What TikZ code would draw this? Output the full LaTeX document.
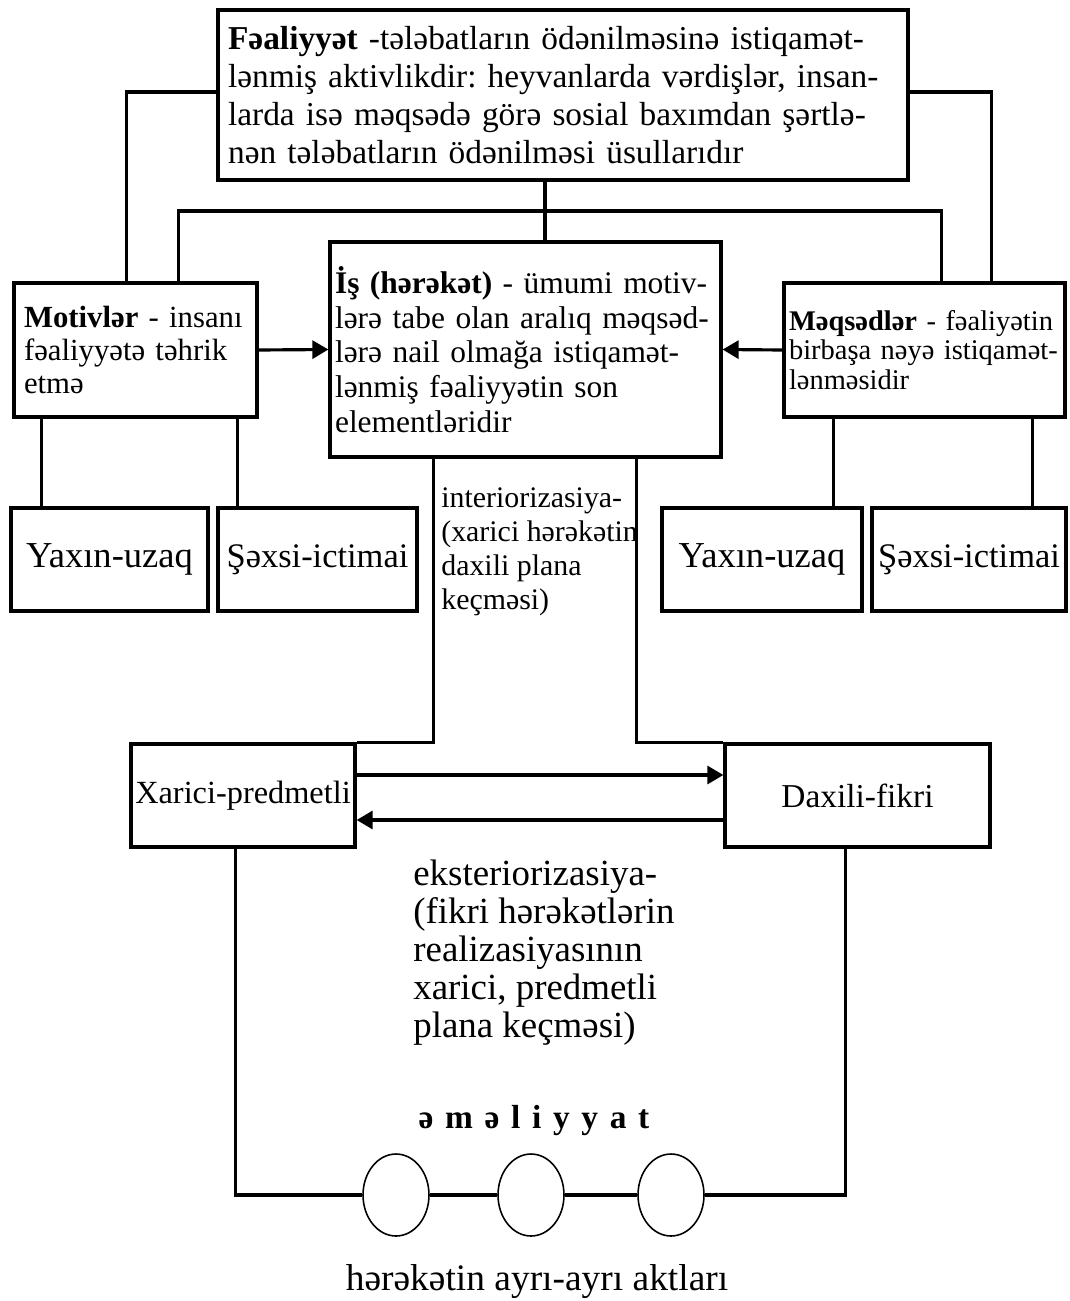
\documentclass[tikz,border=0pt]{standalone}
\usepackage{fontspec}
\setmainfont{Liberation Serif}
\frenchspacing
\usetikzlibrary{shapes.geometric,arrows.meta,calc}
\tikzstyle{bx}=[draw, line width=1.9pt, inner sep=0pt, minimum height=2.06cm]
\tikzstyle{tx}=[bx, align=left]
\tikzstyle{ln}=[line width=1.8pt]
\tikzstyle{to}=[ln, -{Triangle[length=0.32cm,width=0.36cm]}]
\tikzstyle{akt}=[draw, ellipse, line width=0.9pt, fill=white, minimum width=1.32cm, minimum height=1.64cm, inner sep=0pt]
\tikzstyle{lbl}=[inner sep=0pt, align=left]

\begin{document}
\begin{tikzpicture}[x=0.02cm, y=-0.02cm]
\useasboundingbox (0,0) rectangle (1069,1301);
% main boxes
\node[tx, minimum height=3.4cm, inner xsep=0.2cm, text width=13.4cm,
      font=\fontsize{19}{21.5}\selectfont] (fa) at (563,95)
      {\textbf{Fəaliyyət} -tələbatların ödənilməsinə istiqamət-\\lənmiş aktivlikdir: heyvanlarda vərdişlər, insan-\\larda isə məqsədə görə sosial baxımdan şərtlə-\\nən tələbatların ödənilməsi üsullarıdır};
\node[tx, minimum height=4.3cm, inner xsep=0.1cm, text width=7.62cm,
      font=\fontsize{17.9}{19.8}\selectfont] (is) at (525.5,349.5)
      {\textbf{İş (hərəkət)} - ümumi motiv-\\lərə tabe olan aralıq məqsəd-\\lərə nail olmağa istiqamət-\\lənmiş fəaliyyətin son\\elementləridir};
\node[tx, minimum height=2.68cm, inner xsep=0.2cm, text width=4.46cm,
      font=\fontsize{17.5}{18.7}\selectfont] (mot) at (135.5,350)
      {\textbf{Motivlər} - insanı\\fəaliyyətə təhrik\\etmə};
\node[tx, minimum height=2.68cm, inner xsep=0.1cm, text width=5.42cm,
      font=\fontsize{16.2}{16.6}\selectfont] (meq) at (924.5,350)
      {\textbf{Məqsədlər} - fəaliyətin\\birbaşa nəyə istiqamət-\\lənməsidir};
% small boxes
\node[bx, minimum width=3.94cm, font=\fontsize{20.8}{24}\selectfont] (yu1) at (109.5,559.5) {Yaxın-uzaq};
\node[bx, minimum width=3.98cm, font=\fontsize{19.6}{24}\selectfont] (sx1) at (317.5,559.5) {Şəxsi-ictimai};
\node[bx, minimum width=4.0cm, font=\fontsize{20.8}{24}\selectfont] (yu2) at (762,559.5) {Yaxın-uzaq};
\node[bx, minimum width=3.88cm, font=\fontsize{19.6}{24}\selectfont] (sx2) at (969,559.5) {Şəxsi-ictimai};
\node[bx, minimum width=4.48cm, font=\fontsize{18.4}{23}\selectfont] (xar) at (243,795.5) {Xarici-predmetli};
\node[bx, minimum width=5.3cm, font=\fontsize{19}{23}\selectfont] (dax) at (857.5,795.5) {Daxili-fikri};
% acts
\node[akt] (e1) at (396,1195) {};
\node[akt] (e2) at (531,1195) {};
\node[akt] (e3) at (671,1195) {};
% labels
\node[lbl, anchor=north west, font=\fontsize{17}{19.4}\selectfont] (int) at (441,487)
      {interiorizasiya-\\(xarici hərəkətin\\daxili plana\\keçməsi)};
\node[lbl, anchor=north west, font=\fontsize{21}{21.6}\selectfont] (ext) at (413,860)
      {eksteriorizasiya-\\(fikri hərəkətlərin\\realizasiyasının\\xarici, predmetli\\plana keçməsi)};
\node[lbl, anchor=base, font=\fontsize{19}{22}\selectfont\bfseries] (eml) at (534,1128)
      {ə\hspace{0.35em}m\hspace{0.35em}ə\hspace{0.35em}l\hspace{0.35em}i\hspace{0.35em}y\hspace{0.35em}y\hspace{0.35em}a\hspace{0.35em}t};
\node[lbl, anchor=base, font=\fontsize{21.3}{24}\selectfont] (akt) at (537,1290)
      {hərəkətin ayrı-ayrı aktları};
% anchor points
\coordinate (mot1) at ([xshift=2.28cm]mot.north west);
\coordinate (mot2) at ([xshift=3.32cm]mot.north west);
\coordinate (meq1) at ([xshift=3.18cm]meq.north west);
\coordinate (meq2) at ([xshift=4.18cm]meq.north west);
\coordinate (isa) at ([xshift=0.39cm]is.north);
\coordinate (hb) at ($(fa.south)!0.5!(is.north)$);
\coordinate (mot3) at ([xshift=0.58cm]mot.south west);
\coordinate (mot4) at ([xshift=4.5cm]mot.south west);
\coordinate (meq3) at ([xshift=1.02cm]meq.south west);
\coordinate (meq4) at ([xshift=5.0cm]meq.south west);
\coordinate (isb1) at ([xshift=2.1cm]is.south west);
\coordinate (isb2) at ([xshift=6.16cm]is.south west);
\coordinate (xb) at ([xshift=2.12cm]xar.south west);
\coordinate (db) at ([xshift=2.44cm]dax.south west);
% connectors
\draw[ln] ([yshift=0.06cm]fa.west) -| (mot1);
\draw[ln] ([yshift=0.06cm]fa.east) -| (meq2);
\draw[ln] (isa |- fa.south) -- (isa);
\draw[ln] (mot2) |- (hb) -| (meq1);
\draw[to] (mot.east) -- (is.west);
\draw[to] (meq.west) -- (is.east);
\draw[ln] (mot3) -- (mot3 |- yu1.north);
\draw[ln] (mot4) -- (mot4 |- sx1.north);
\draw[ln] (meq3) -- (meq3 |- yu2.north);
\draw[ln] (meq4) -- (meq4 |- sx2.north);
\draw[ln] (isb1) |- (xar.north east);
\draw[ln] (isb2) |- (dax.north west);
\draw[to] ([yshift=0.41cm]xar.east) -- ([yshift=0.41cm]dax.west);
\draw[to] ([yshift=-0.49cm]dax.west) -- ([yshift=-0.49cm]xar.east);
\draw[ln] (xb) |- (e1.west);
\draw[ln] (e1.east) -- (e2.west);
\draw[ln] (e2.east) -- (e3.west);
\draw[ln] (e3.east) -| (db);
\end{tikzpicture}
\end{document}
